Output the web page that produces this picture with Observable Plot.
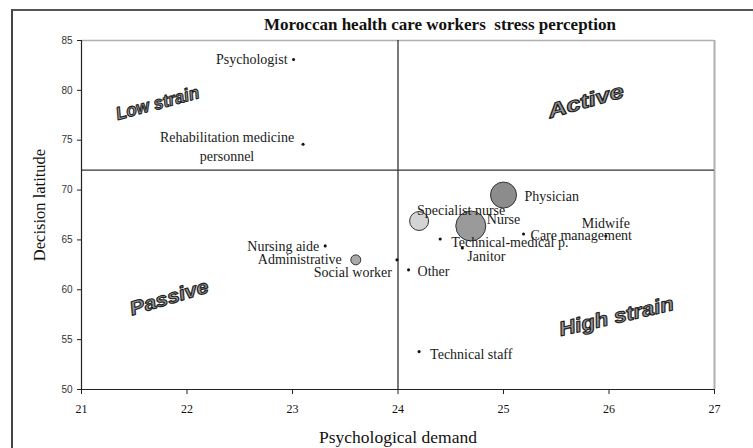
<!DOCTYPE html>
<html>
<head>
<meta charset="utf-8">
<script src="https://cdn.jsdelivr.net/npm/d3@7"></script>
<script src="https://cdn.jsdelivr.net/npm/@observablehq/plot@0.6"></script>
<style>
  html, body { margin: 0; padding: 0; background: #fff; overflow: hidden; }
  #wrap { position: relative; width: 753px; height: 448px; }
  #frame { position: absolute; left: 11px; top: 9px; width: 800px; height: 500px;
           border-left: 2px solid #444; border-top: 2px solid #555; box-sizing: border-box; }
  #wrap svg { position: absolute; left: 0; top: 0; }
  svg text { white-space: pre; }
</style>
</head>
<body>
<div id="wrap"><div id="frame"></div></div>
<script>
// ---- data ----
const titleText = "Moroccan health care workers  stress perception";
const xLabel = "Psychological demand";
const yLabel = "Decision latitude";

const groups    = ["Psychologist", "Rehabilitation medicine personnel", "Physician", "Specialist nurse",
                   "Nurse", "Technical-medical p.", "Care management", "Midwife", "Janitor",
                   "Nursing aide", "Administrative", "Social worker", "Other", "Technical staff"];
const demand    = [23.01, 23.10, 25.00, 24.20, 24.69, 24.40, 25.19, 25.97, 24.61, 23.31, 23.60, 23.99, 24.10, 24.20];
const latitude  = [83.1, 74.6, 69.5, 66.9, 66.4, 65.1, 65.6, 65.4, 64.2, 64.4, 63.0, 63.0, 62.0, 53.8];
const staffSize = [2, 2, 143, 76, 190, 2, 2, 2, 2, 2, 21, 2, 2, 2];

const xTicks = [21, 22, 23, 24, 25, 26, 27];
const yTicks = [50, 55, 60, 65, 70, 75, 80, 85];
const xCut = 24, yCut = 72;

const quadrantNames = ["Low strain", "Active", "Passive", "High strain"];
const quadrantX     = [21.72, 25.78, 21.83, 26.07];
const quadrantY     = [78.7, 78.9, 59.2, 57.3];

// ---- build table ----
const data = groups.map((g, i) => ({name: g, x: demand[i], y: latitude[i], n: staffSize[i]}));
const quads = quadrantNames.map((q, i) => ({name: q, x: quadrantX[i], y: quadrantY[i]}));

// label placement (style only)
const place = {
  "Psychologist": {a: "end", dx: -6, dy: -2},
  "Rehabilitation medicine personnel": {a: "middle", dx: -76, dy: 1, text: "Rehabilitation medicine\npersonnel"},
  "Physician": {a: "start", dx: 21, dy: 0},
  "Specialist nurse": {a: "middle", dx: 42, dy: -12},
  "Nurse": {a: "start", dx: 16, dy: -8},
  "Technical-medical p.": {a: "start", dx: 11, dy: 2},
  "Care management": {a: "start", dx: 7, dy: 0},
  "Midwife": {a: "middle", dx: 0, dy: -14},
  "Janitor": {a: "start", dx: 5, dy: 7},
  "Nursing aide": {a: "end", dx: -6, dy: -1},
  "Administrative": {a: "end", dx: -14, dy: -2},
  "Social worker": {a: "end", dx: -5, dy: 11},
  "Other": {a: "start", dx: 9, dy: 0},
  "Technical staff": {a: "start", dx: 11, dy: 1}
};
const bubbleFill = {"Physician": "#8c8c8c", "Nurse": "#9a9a9a", "Specialist nurse": "#d4d4d4", "Administrative": "#a9a9a9"};
// WordArt-like look of the quadrant names (style only)
const quadStyle = {
  "Low strain":  {rot: -15, size: 18, stretch: 0.95},
  "Active":      {rot: -16, size: 20, stretch: 1.3},
  "Passive":     {rot: -17, size: 19.5, stretch: 1.12},
  "High strain": {rot: -13, size: 20, stretch: 1.12}
};

const labelMarks = data.map(d => {
  const p = place[d.name];
  return Plot.text([d], {
    x: "x", y: "y", text: () => p.text || d.name,
    textAnchor: p.a, dx: p.dx, dy: p.dy,
    fontFamily: "Liberation Serif", fontSize: 14, fill: "#1a1a1a", lineHeight: 1.35,
    letterSpacing: "-0.2px"
  });
});

const quadMarks = quads.map((q, i) => {
  const s = quadStyle[q.name];
  return Plot.text([q], {
    x: "x", y: "y", text: "name", rotate: s.rot, className: "quad" + i,
    fontFamily: "Liberation Sans", fontWeight: "bold", fontStyle: "italic", fontSize: s.size,
    fill: "#979797", stroke: "#222", strokeWidth: 1.1, paintOrder: "normal"
  });
});

const plot = Plot.plot({
  width: 753, height: 448,
  marginLeft: 81, marginRight: 39, marginTop: 40, marginBottom: 59,
  style: {background: "transparent", overflow: "visible"},
  x: {domain: [21, 27]},
  y: {domain: [50, 85]},
  r: {type: "sqrt", domain: [0, 190], range: [0, 15]},
  marks: [
    Plot.ruleY([85], {stroke: "#b0b0b0", strokeWidth: 1.5}),
    Plot.ruleX([27], {stroke: "#b0b0b0", strokeWidth: 2}),
    Plot.ruleX([xCut], {y1: 50, y2: 85, stroke: "#222", strokeWidth: 1.2}),
    Plot.ruleY([yCut], {x1: 21, x2: 27, stroke: "#333", strokeWidth: 1.2}),
    Plot.ruleX([21], {stroke: "#222", strokeWidth: 1.2}),
    Plot.ruleY([50], {stroke: "#222", strokeWidth: 1.2}),
    Plot.axisY({ticks: yTicks, tickSize: 4, tickPadding: 5, fontFamily: "Liberation Sans", fontSize: 10,
                color: "#333", stroke: "#222", label: null}),
    Plot.axisX({ticks: xTicks, tickFormat: d => String(d), tickSize: 5, tickPadding: 10,
                fontFamily: "Liberation Serif", fontSize: 12, letterSpacing: "-0.8px",
                color: "#111", stroke: "#222", label: null}),
    Plot.text([yLabel], {frameAnchor: "left", textAnchor: "middle", lineAnchor: "middle", dx: -42, dy: -10,
                         rotate: -90, fontFamily: "Liberation Serif", fontSize: 16.5, fill: "#111"}),
    Plot.text([xLabel], {frameAnchor: "bottom", lineAnchor: "middle", dy: 48,
                         fontFamily: "Liberation Serif", fontSize: 17.5, fill: "#111"}),
    Plot.text([titleText], {frameAnchor: "top", lineAnchor: "middle", dx: 42, dy: -16,
                            fontFamily: "Liberation Serif", fontWeight: "bold", fontSize: 17, fill: "#111"}),
    ...quadMarks,
    Plot.dot(data, {x: "x", y: "y", r: "n",
                    fill: d => d.n > 10 ? bubbleFill[d.name] : "#111",
                    stroke: d => d.n > 10 ? "#333" : "none", strokeWidth: 1}),
    ...labelMarks
  ]
});
// stretch the quadrant names horizontally, WordArt style
quads.forEach((q, i) => {
  const s = quadStyle[q.name].stretch;
  plot.querySelectorAll(".quad" + i + " text").forEach(t => {
    const tr = t.getAttribute("transform");
    if (tr) t.setAttribute("transform", tr + ` scale(${s},1)`);
  });
});
document.getElementById("wrap").appendChild(plot);
</script>
</body>
</html>
